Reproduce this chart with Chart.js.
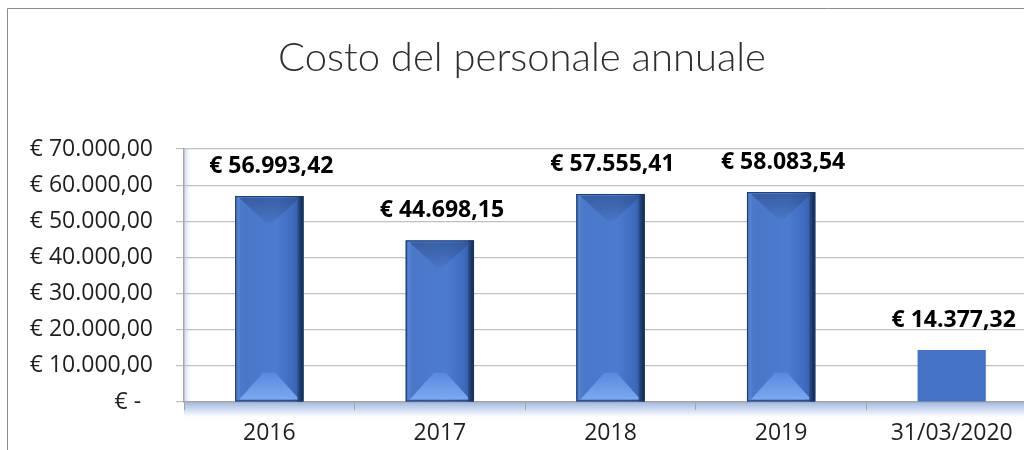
<!DOCTYPE html>
<html>
<head>
<meta charset="utf-8">
<script src="https://cdn.jsdelivr.net/npm/chart.js@4.4.1/dist/chart.umd.min.js"></script>
<style>
  html, body { margin: 0; padding: 0; background: #ffffff; overflow: hidden; width: 1024px; height: 450px; }
  #wrap { position: absolute; left: 0; top: 0; width: 1100px; height: 450px; }
</style>
</head>
<body>
<div id="wrap"><canvas id="c" width="1100" height="450"></canvas></div>
<script>
// ---- data ----
const chartTitle = 'Costo del personale annuale';
const categories = ['2016', '2017', '2018', '2019', '31/03/2020'];
const costs = [56993.42, 44698.15, 57555.41, 58083.54, 14377.32];
const yTickValues = [0, 10000, 20000, 30000, 40000, 50000, 60000, 70000];
const yTickLabels = ['€ -  ', '€ 10.000,00', '€ 20.000,00', '€ 30.000,00', '€ 40.000,00', '€ 50.000,00', '€ 60.000,00', '€ 70.000,00'];
const bevelled = [true, true, true, true, false];

function euro(v) {
  const parts = v.toFixed(2).split('.');
  const intPart = parts[0].replace(/\B(?=(\d{3})+(?!\d))/g, '.');
  return '€ ' + intPart + ',' + parts[1];
}

const FONT = "'Open Sans', 'Liberation Sans', sans-serif";
const BLUE = '#4472C4';

const framePlugin = {
  id: 'frame',
  beforeDraw(chart) {
    const ctx = chart.ctx;
    ctx.save();
    ctx.fillStyle = '#ffffff';
    ctx.fillRect(0, 0, chart.width, chart.height);
    ctx.strokeStyle = '#8c8c8c';
    ctx.lineWidth = 1;
    ctx.beginPath();
    ctx.moveTo(7.5, chart.height + 5);
    ctx.lineTo(7.5, 8.5);
    ctx.lineTo(chart.width + 5, 8.5);
    ctx.stroke();
    // title
    ctx.fillStyle = '#2e2e2e';
    ctx.font = "300 40px Lato, 'Open Sans', sans-serif";
    ctx.textAlign = 'center';
    ctx.textBaseline = 'middle';
    ctx.fillText(chartTitle, 522, 58);
    // axis glow
    const a = chart.chartArea;
    let g = ctx.createLinearGradient(0, a.bottom, 0, a.bottom + 15);
    g.addColorStop(0, 'rgba(68,114,196,0.50)');
    g.addColorStop(1, 'rgba(68,114,196,0)');
    ctx.fillStyle = g;
    ctx.fillRect(a.left, a.bottom, a.right - a.left, 15);
    g = ctx.createLinearGradient(a.left, 0, a.left + 6, 0);
    g.addColorStop(0, 'rgba(68,114,196,0.25)');
    g.addColorStop(1, 'rgba(68,114,196,0)');
    ctx.fillStyle = g;
    ctx.fillRect(a.left, a.top, 6, a.bottom - a.top);
    ctx.restore();
  }
};

const bevelPlugin = {
  id: 'bevel',
  afterDatasetsDraw(chart) {
    const ctx = chart.ctx;
    const meta = chart.getDatasetMeta(0);
    meta.data.forEach((bar, i) => {
      if (!bevelled[i]) return;
      const p = bar.getProps(['x', 'y', 'base', 'width'], true);
      const L = p.x - p.width / 2, R = p.x + p.width / 2, T = p.y, B = p.base;
      const W = R - L, H = B - T;
      ctx.save();
      // base fill
      let g = ctx.createLinearGradient(L, 0, R, 0);
      g.addColorStop(0, '#4f7cc9');
      g.addColorStop(0.15, '#4a77c8');
      g.addColorStop(0.6, '#4c7bd0');
      g.addColorStop(0.85, '#3f6bbd');
      g.addColorStop(1, '#2f5597');
      ctx.fillStyle = g;
      ctx.fillRect(L, T, W, H);
      const e = 4;
      const d = Math.min(W / 2 - e, H / 2);
      // top bevel (darker)
      g = ctx.createLinearGradient(0, T, 0, T + d);
      g.addColorStop(0, 'rgba(40,70,125,0.55)');
      g.addColorStop(1, 'rgba(40,70,125,0.05)');
      ctx.fillStyle = g;
      ctx.beginPath();
      ctx.moveTo(L + e, T + 2);
      ctx.lineTo(R - e, T + 2);
      ctx.lineTo(R - e - d * 0.9, T + d * 0.9);
      ctx.lineTo(L + e + d * 0.9, T + d * 0.9);
      ctx.closePath();
      ctx.fill();
      // bottom bevel (lighter)
      g = ctx.createLinearGradient(0, B, 0, B - d);
      g.addColorStop(0, '#7eaaf2');
      g.addColorStop(1, '#5888dc');
      ctx.fillStyle = g;
      ctx.beginPath();
      ctx.moveTo(L + e, B - 2);
      ctx.lineTo(R - e, B - 2);
      ctx.lineTo(R - e - d * 0.8, B - d * 0.95);
      ctx.lineTo(L + e + d * 0.8, B - d * 0.95);
      ctx.closePath();
      ctx.fill();
      // left edge light
      g = ctx.createLinearGradient(L, 0, L + e, 0);
      g.addColorStop(0, '#3d67b3');
      g.addColorStop(1, '#5d8ad8');
      ctx.fillStyle = g;
      ctx.fillRect(L, T, e, H);
      // right edge dark
      g = ctx.createLinearGradient(R - 6, 0, R, 0);
      g.addColorStop(0, '#2c5090');
      g.addColorStop(1, '#122544');
      ctx.fillStyle = g;
      ctx.fillRect(R - 6, T, 6, H);
      // outline
      ctx.strokeStyle = 'rgba(30,55,100,0.9)';
      ctx.lineWidth = 1;
      ctx.strokeRect(L + 0.5, T + 0.5, W - 1, H - 1);
      ctx.restore();
    });
  },
  afterDraw(chart) {
    const ctx = chart.ctx;
    const meta = chart.getDatasetMeta(0);
    ctx.save();
    ctx.fillStyle = '#000000';
    ctx.font = "bold 23px " + FONT;
    ctx.textAlign = 'center';
    ctx.textBaseline = 'middle';
    meta.data.forEach((bar, i) => {
      const p = bar.getProps(['x', 'y'], true);
      ctx.fillText(euro(costs[i]), p.x + 2, p.y - 30);
    });
    ctx.restore();
  }
};

new Chart(document.getElementById('c'), {
  type: 'bar',
  data: {
    labels: categories,
    datasets: [{
      data: costs,
      backgroundColor: BLUE,
      borderWidth: 0,
      barPercentage: 0.8,
      categoryPercentage: 0.5
    }]
  },
  options: {
    responsive: false,
    animation: false,
    devicePixelRatio: 1,
    layout: { padding: { top: 149, right: 63, bottom: 0, left: 0 } },
    plugins: { legend: { display: false }, tooltip: { enabled: false }, title: { display: false } },
    scales: {
      x: {
        grid: { display: true, drawOnChartArea: false, drawTicks: true, tickLength: 8, color: '#a6a6a6', offset: true },
        border: { display: true, color: '#a6a6a6', width: 1.5 },
        ticks: { color: '#1f1f1f', font: { family: FONT, size: 23 }, padding: 10, maxRotation: 0, autoSkip: false },
        afterFit(scale) { scale.height = 48; }
      },
      y: {
        min: 0, max: 70000,
        afterBuildTicks(scale) { scale.ticks = yTickValues.map(v => ({ value: v })); },
        grid: { color: '#c0c0c0', lineWidth: 1.2, drawTicks: true, tickLength: 8 },
        border: { display: true, color: '#a6a6a6', width: 1.5 },
        ticks: {
          color: '#1f1f1f',
          font: { family: FONT, size: 23 },
          padding: 23,
          callback(value) { const i = yTickValues.indexOf(value); return i >= 0 ? yTickLabels[i] : ''; }
        },
        afterFit(scale) { scale.width = 184; }
      }
    }
  },
  plugins: [framePlugin, bevelPlugin]
});
</script>
</body>
</html>
